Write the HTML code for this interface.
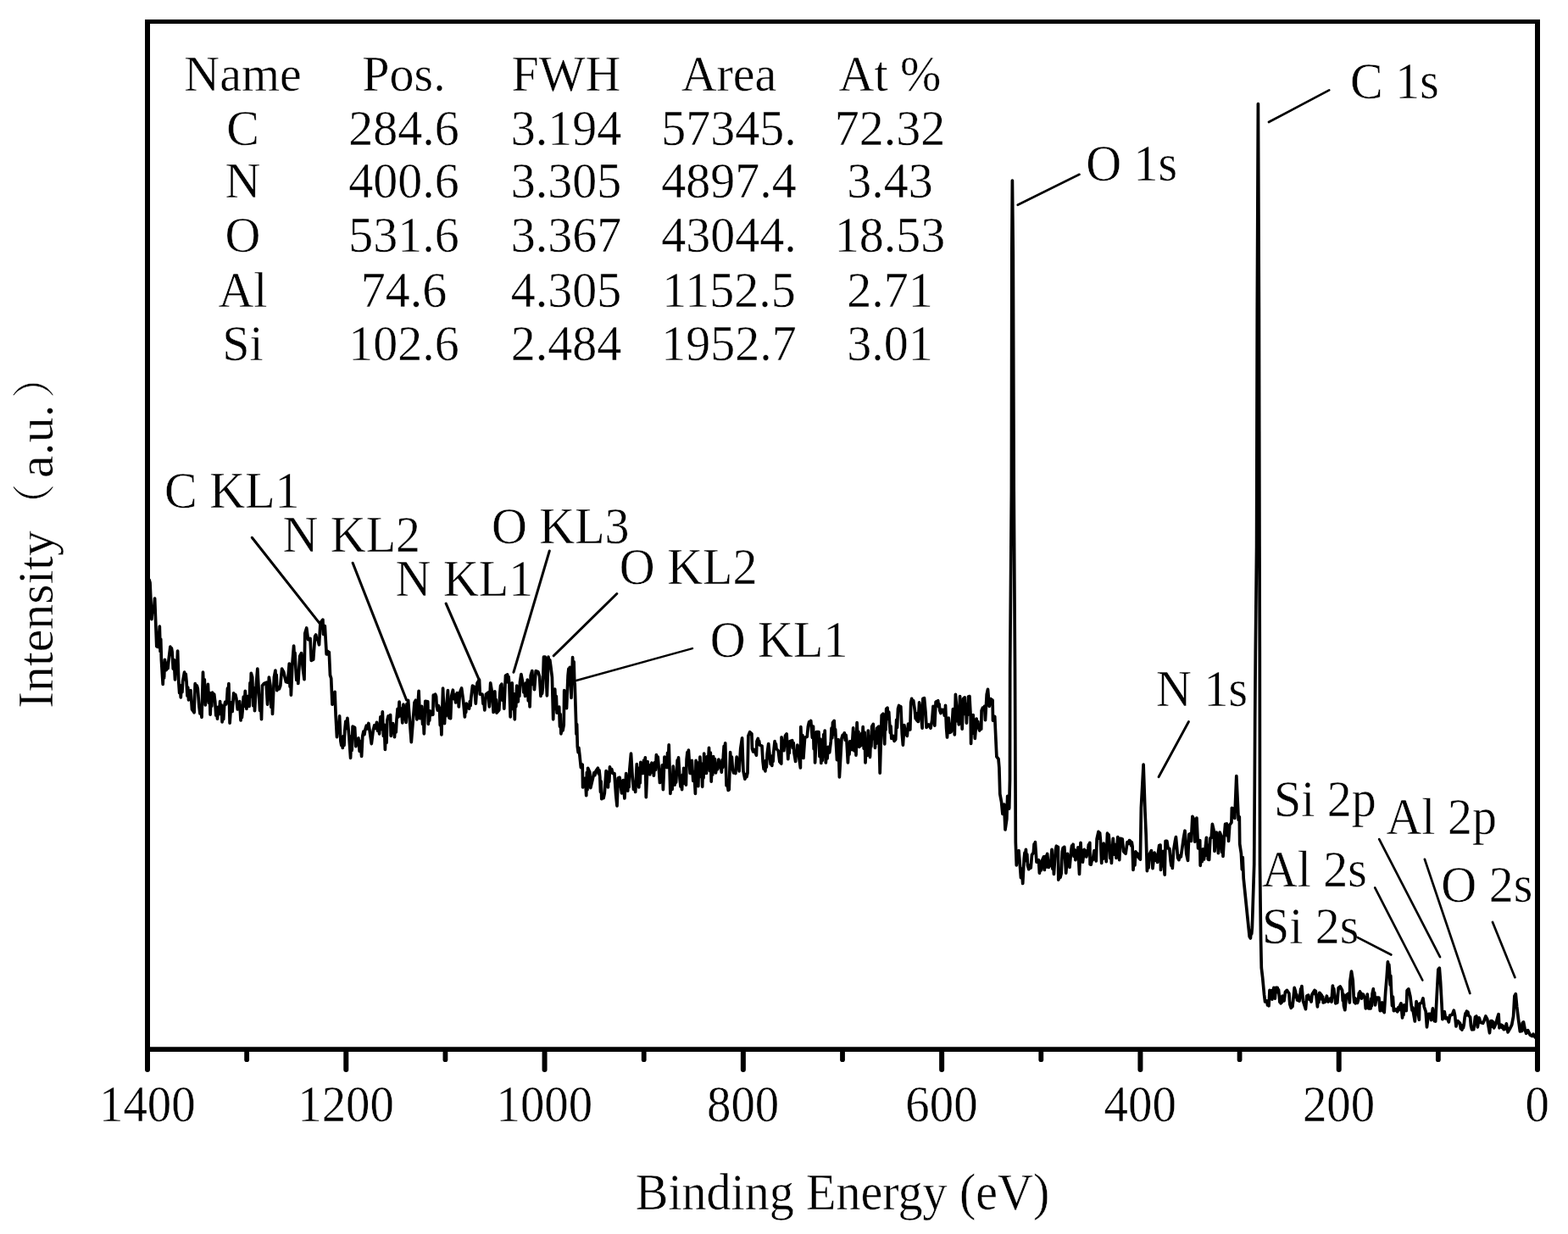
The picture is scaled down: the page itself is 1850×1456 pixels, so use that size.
<!DOCTYPE html>
<html><head><meta charset="utf-8"><title>XPS survey spectrum</title>
<style>
html,body{margin:0;padding:0;background:#fff;}
body{width:1850px;height:1456px;overflow:hidden;}
svg{display:block;font-family:"Liberation Serif", "Noto Serif CJK SC", serif;fill:#000;}
text{stroke:#fff;stroke-width:0.45px;}
</style></head><body>
<svg width="1850" height="1456" viewBox="0 0 1850 1456">
<rect width="1850" height="1456" fill="#fff"/>
<path d="M171 23H1817V1241H171Z M177 28V1235.3H1811V28Z" fill="#000" fill-rule="evenodd"/>
<line x1="174.00" y1="1240" x2="174.00" y2="1262" stroke="#000" stroke-width="6" stroke-linecap="round"/>
<text transform="translate(173.80,1323) scale(0.98,1.055)" text-anchor="middle" font-size="58">1400</text>
<line x1="291.14" y1="1240" x2="291.14" y2="1250.2" stroke="#000" stroke-width="5.8" stroke-linecap="round"/>
<line x1="408.29" y1="1240" x2="408.29" y2="1262" stroke="#000" stroke-width="6" stroke-linecap="round"/>
<text transform="translate(408.09,1323) scale(0.98,1.055)" text-anchor="middle" font-size="58">1200</text>
<line x1="525.43" y1="1240" x2="525.43" y2="1250.2" stroke="#000" stroke-width="5.8" stroke-linecap="round"/>
<line x1="642.57" y1="1240" x2="642.57" y2="1262" stroke="#000" stroke-width="6" stroke-linecap="round"/>
<text transform="translate(642.37,1323) scale(0.98,1.055)" text-anchor="middle" font-size="58">1000</text>
<line x1="759.71" y1="1240" x2="759.71" y2="1250.2" stroke="#000" stroke-width="5.8" stroke-linecap="round"/>
<line x1="876.86" y1="1240" x2="876.86" y2="1262" stroke="#000" stroke-width="6" stroke-linecap="round"/>
<text transform="translate(876.66,1323) scale(0.98,1.055)" text-anchor="middle" font-size="58">800</text>
<line x1="994.00" y1="1240" x2="994.00" y2="1250.2" stroke="#000" stroke-width="5.8" stroke-linecap="round"/>
<line x1="1111.14" y1="1240" x2="1111.14" y2="1262" stroke="#000" stroke-width="6" stroke-linecap="round"/>
<text transform="translate(1110.94,1323) scale(0.98,1.055)" text-anchor="middle" font-size="58">600</text>
<line x1="1228.29" y1="1240" x2="1228.29" y2="1250.2" stroke="#000" stroke-width="5.8" stroke-linecap="round"/>
<line x1="1345.43" y1="1240" x2="1345.43" y2="1262" stroke="#000" stroke-width="6" stroke-linecap="round"/>
<text transform="translate(1345.23,1323) scale(0.98,1.055)" text-anchor="middle" font-size="58">400</text>
<line x1="1462.57" y1="1240" x2="1462.57" y2="1250.2" stroke="#000" stroke-width="5.8" stroke-linecap="round"/>
<line x1="1579.71" y1="1240" x2="1579.71" y2="1262" stroke="#000" stroke-width="6" stroke-linecap="round"/>
<text transform="translate(1579.51,1323) scale(0.98,1.055)" text-anchor="middle" font-size="58">200</text>
<line x1="1696.86" y1="1240" x2="1696.86" y2="1250.2" stroke="#000" stroke-width="5.8" stroke-linecap="round"/>
<line x1="1814.00" y1="1240" x2="1814.00" y2="1262" stroke="#000" stroke-width="6" stroke-linecap="round"/>
<text transform="translate(1813.80,1323) scale(0.98,1.055)" text-anchor="middle" font-size="58">0</text>
<text transform="translate(994,1427.1) scale(1,1.04)" text-anchor="middle" font-size="58">Binding Energy (eV)</text>
<text transform="translate(62.3,836) rotate(-90)" font-size="60">Intensity<tspan x="214.4" dy="-3" font-size="51">（</tspan><tspan x="272" dy="3" font-size="60">a.u.</tspan><tspan x="366.1" dy="-3" font-size="51">）</tspan></text>
<text transform="translate(286.5,106.5) scale(1,1.03)" text-anchor="middle" font-size="58">Name</text>
<text transform="translate(476.5,106.5) scale(1,1.03)" text-anchor="middle" font-size="58">Pos.</text>
<text transform="translate(668,106.5) scale(1,1.03)" text-anchor="middle" font-size="58">FWH</text>
<text transform="translate(860,106.5) scale(1,1.03)" text-anchor="middle" font-size="58">Area</text>
<text transform="translate(1050,106.5) scale(1,1.03)" text-anchor="middle" font-size="58">At %</text>
<text transform="translate(286.5,170.5) scale(1,1.03)" text-anchor="middle" font-size="58">C</text>
<text transform="translate(476.5,170.5) scale(1,1.03)" text-anchor="middle" font-size="58">284.6</text>
<text transform="translate(668,170.5) scale(1,1.03)" text-anchor="middle" font-size="58">3.194</text>
<text transform="translate(860,170.5) scale(1,1.03)" text-anchor="middle" font-size="58">57345.</text>
<text transform="translate(1050,170.5) scale(1,1.03)" text-anchor="middle" font-size="58">72.32</text>
<text transform="translate(286.5,233.2) scale(1,1.03)" text-anchor="middle" font-size="58">N</text>
<text transform="translate(476.5,233.2) scale(1,1.03)" text-anchor="middle" font-size="58">400.6</text>
<text transform="translate(668,233.2) scale(1,1.03)" text-anchor="middle" font-size="58">3.305</text>
<text transform="translate(860,233.2) scale(1,1.03)" text-anchor="middle" font-size="58">4897.4</text>
<text transform="translate(1050,233.2) scale(1,1.03)" text-anchor="middle" font-size="58">3.43</text>
<text transform="translate(286.5,297.2) scale(1,1.03)" text-anchor="middle" font-size="58">O</text>
<text transform="translate(476.5,297.2) scale(1,1.03)" text-anchor="middle" font-size="58">531.6</text>
<text transform="translate(668,297.2) scale(1,1.03)" text-anchor="middle" font-size="58">3.367</text>
<text transform="translate(860,297.2) scale(1,1.03)" text-anchor="middle" font-size="58">43044.</text>
<text transform="translate(1050,297.2) scale(1,1.03)" text-anchor="middle" font-size="58">18.53</text>
<text transform="translate(286.5,362) scale(1,1.03)" text-anchor="middle" font-size="58">Al</text>
<text transform="translate(476.5,362) scale(1,1.03)" text-anchor="middle" font-size="58">74.6</text>
<text transform="translate(668,362) scale(1,1.03)" text-anchor="middle" font-size="58">4.305</text>
<text transform="translate(860,362) scale(1,1.03)" text-anchor="middle" font-size="58">1152.5</text>
<text transform="translate(1050,362) scale(1,1.03)" text-anchor="middle" font-size="58">2.71</text>
<text transform="translate(286.5,425.1) scale(1,1.03)" text-anchor="middle" font-size="58">Si</text>
<text transform="translate(476.5,425.1) scale(1,1.03)" text-anchor="middle" font-size="58">102.6</text>
<text transform="translate(668,425.1) scale(1,1.03)" text-anchor="middle" font-size="58">2.484</text>
<text transform="translate(860,425.1) scale(1,1.03)" text-anchor="middle" font-size="58">1952.7</text>
<text transform="translate(1050,425.1) scale(1,1.03)" text-anchor="middle" font-size="58">3.01</text>
<text transform="translate(194.1,599.2) scale(1,1.055)" text-anchor="start" font-size="58">C KL1</text>
<line x1="297.3" y1="634.3" x2="378" y2="736.6" stroke="#000" stroke-width="3.1" stroke-linecap="round"/>
<text transform="translate(333.4,650.6) scale(1,1.055)" text-anchor="start" font-size="58">N KL2</text>
<line x1="416.2" y1="664.3" x2="479.6" y2="826" stroke="#000" stroke-width="3.1" stroke-linecap="round"/>
<text transform="translate(466.6,702.9) scale(1,1.055)" text-anchor="start" font-size="58">N KL1</text>
<line x1="526.2" y1="712.2" x2="565.4" y2="802.3" stroke="#000" stroke-width="3.1" stroke-linecap="round"/>
<text transform="translate(579.9,641.3) scale(1,1.055)" text-anchor="start" font-size="58">O KL3</text>
<line x1="648.3" y1="650" x2="606" y2="793.2" stroke="#000" stroke-width="3.0" stroke-linecap="round"/>
<text transform="translate(730.8,689.3) scale(1,1.055)" text-anchor="start" font-size="58">O KL2</text>
<line x1="727.8" y1="700.5" x2="653.2" y2="773.8" stroke="#000" stroke-width="3.0" stroke-linecap="round"/>
<text transform="translate(837.7,775.1) scale(1,1.055)" text-anchor="start" font-size="58">O KL1</text>
<line x1="816.9" y1="765.1" x2="678.9" y2="803.2" stroke="#000" stroke-width="2.5" stroke-linecap="round"/>
<text transform="translate(1593.1,115.8) scale(1,1.055)" text-anchor="start" font-size="58">C 1s</text>
<line x1="1568.2" y1="106.4" x2="1497" y2="144" stroke="#000" stroke-width="2.7" stroke-linecap="round"/>
<text transform="translate(1281.2,212.7) scale(1,1.055)" text-anchor="start" font-size="58">O 1s</text>
<line x1="1273.5" y1="205.8" x2="1200.8" y2="241.8" stroke="#000" stroke-width="2.7" stroke-linecap="round"/>
<text transform="translate(1364.1,832.5) scale(1,1.055)" text-anchor="start" font-size="58">N 1s</text>
<line x1="1402.4" y1="851.6" x2="1367.1" y2="916.6" stroke="#000" stroke-width="3.0" stroke-linecap="round"/>
<text transform="translate(1502.9,963.1) scale(1,1.055)" text-anchor="start" font-size="58">Si 2p</text>
<line x1="1627.2" y1="990.1" x2="1699" y2="1129.2" stroke="#000" stroke-width="2.7" stroke-linecap="round"/>
<text transform="translate(1635.4,983.5) scale(1,1.055)" text-anchor="start" font-size="58">Al 2p</text>
<line x1="1680.9" y1="1013.8" x2="1734.3" y2="1172" stroke="#000" stroke-width="2.7" stroke-linecap="round"/>
<text transform="translate(1488.8,1046.0) scale(1,1.055)" text-anchor="start" font-size="58">Al 2s</text>
<line x1="1622.2" y1="1047.4" x2="1678.3" y2="1156.5" stroke="#000" stroke-width="2.7" stroke-linecap="round"/>
<text transform="translate(1700.3,1063.7) scale(1,1.055)" text-anchor="start" font-size="58">O 2s</text>
<line x1="1761" y1="1088" x2="1787.4" y2="1153.2" stroke="#000" stroke-width="2.7" stroke-linecap="round"/>
<text transform="translate(1489,1112.9) scale(1,1.055)" text-anchor="start" font-size="58">Si 2s</text>
<line x1="1601.8" y1="1106.1" x2="1641.4" y2="1126.5" stroke="#000" stroke-width="2.7" stroke-linecap="round"/>
<polyline points="174.0,682.5 175.0,686.9 176.1,684.2 177.0,687.4 178.9,730.7 180.2,715.5 181.3,721.9 182.6,706.0 184.8,762.8 186.7,763.4 188.3,739.1 189.1,768.8 189.7,754.1 190.4,778.9 192.2,807.3 193.0,789.3 193.6,799.9 194.4,778.3 196.2,790.6 197.2,782.0 198.1,788.7 199.0,778.9 200.9,763.1 201.7,768.0 202.4,764.9 203.1,769.0 204.3,789.2 205.3,778.7 206.5,801.8 207.6,779.6 208.5,792.0 209.6,768.0 210.8,804.8 211.7,817.5 212.4,810.0 213.3,822.8 214.2,808.6 214.9,816.6 215.7,803.6 217.6,793.1 218.5,801.8 219.2,795.4 220.1,804.8 221.0,821.2 221.7,811.0 222.5,825.9 223.4,817.8 224.2,822.7 225.0,814.7 226.5,837.0 229.1,840.7 230.2,806.7 231.3,810.7 232.2,808.8 233.3,812.3 234.9,833.3 236.0,841.9 236.9,835.8 238.0,846.3 239.5,793.1 240.5,817.3 241.3,801.9 242.3,832.0 243.4,815.1 244.4,825.6 245.4,807.3 246.4,829.5 247.2,817.3 248.1,843.2 249.0,825.4 249.8,833.2 250.6,817.2 251.8,826.6 252.7,819.1 253.8,828.3 254.8,844.1 255.6,835.3 256.5,848.1 257.6,834.1 258.6,842.5 259.6,827.7 260.5,842.6 261.2,831.9 262.1,851.8 263.0,837.5 263.7,848.7 264.6,833.3 265.7,828.3 266.6,831.1 267.7,825.9 268.5,812.2 269.1,819.6 269.9,806.7 271.1,853.1 272.8,828.9 274.1,839.5 275.7,817.8 276.8,822.5 277.7,819.5 278.8,824.0 280.3,837.0 281.1,830.8 281.9,833.9 282.7,827.7 284.0,850.0 284.8,840.2 285.4,846.7 286.2,838.2 287.3,822.2 288.2,833.2 289.3,815.4 290.9,836.4 292.4,821.5 294.2,833.3 295.0,805.7 295.6,822.1 296.3,794.3 297.7,799.1 298.7,832.6 299.5,811.8 300.5,838.7 302.4,806.5 303.8,789.2 305.5,818.9 306.6,838.4 307.5,824.0 308.5,848.6 309.5,809.0 311.6,806.5 314.1,805.3 315.6,831.2 317.4,799.1 319.0,809.0 319.9,834.5 320.7,814.1 321.5,842.4 323.4,799.1 324.9,791.1 325.6,806.2 326.2,796.3 326.8,814.6 328.3,810.5 329.4,812.9 330.8,809.0 332.6,789.2 334.7,792.9 336.4,800.3 337.4,804.7 338.5,802.1 339.4,805.3 341.3,783.0 342.1,810.1 342.7,794.3 343.4,820.1 345.0,781.8 346.6,762.0 347.4,775.7 348.0,770.4 348.7,784.3 349.8,802.5 350.8,792.1 351.8,806.5 353.7,774.4 355.5,770.7 357.4,789.2 359.0,801.6 359.8,747.2 361.7,741.0 363.5,754.6 366.0,753.4 367.3,779.3 369.7,778.1 371.6,750.9 372.7,749.0 373.7,754.3 374.7,753.4 376.5,760.8 378.0,734.8 380.9,731.1 381.5,748.4 383.3,738.5 385.2,771.9 386.3,768.3 387.3,771.9 388.3,769.4 389.5,796.6 390.7,800.3 392.0,831.2 393.1,822.1 394.0,828.8 395.1,816.4 396.1,843.6 397.5,869.6 398.7,853.7 399.6,863.8 400.6,844.8 401.9,874.5 402.8,879.3 403.5,876.0 404.3,882.5 405.2,868.5 406.0,879.4 406.8,862.2 407.9,851.0 408.9,859.4 409.9,847.3 411.8,868.3 413.6,894.3 414.5,868.8 415.2,885.4 416.1,857.2 418.6,858.4 419.8,880.7 420.9,872.7 421.8,876.8 422.9,870.8 424.2,886.4 425.3,874.5 426.6,892.4 427.8,868.3 428.9,863.2 429.9,866.7 430.9,860.9 432.3,856.2 433.5,859.8 434.9,853.5 438.3,877.6 440.2,862.2 441.7,855.9 443.0,859.3 444.5,852.3 445.6,862.2 446.6,857.6 447.6,865.9 448.9,845.8 450.0,860.3 451.3,839.9 452.4,868.5 453.3,855.2 454.4,884.4 455.3,856.9 456.0,876.4 456.9,849.8 458.2,844.8 459.3,847.3 460.6,843.6 461.2,868.3 462.1,856.4 462.8,863.1 463.7,853.5 465.5,869.6 466.4,856.2 467.2,863.9 468.0,849.2 469.1,836.4 470.0,845.9 471.1,828.2 472.4,844.6 473.5,836.1 474.8,852.9 476.0,831.2 479.1,852.3 480.0,830.6 480.8,842.0 481.6,826.3 485.3,875.7 489.0,828.8 490.4,826.3 491.9,848.8 494.1,815.3 495.4,847.7 496.2,838.3 496.8,844.7 497.6,833.4 498.6,854.5 499.4,843.3 500.3,865.8 501.8,827.4 504.7,827.9 505.3,854.3 506.1,841.8 506.7,850.1 507.5,838.9 508.6,843.7 509.7,839.9 510.8,843.3 511.3,820.2 512.5,824.5 513.6,819.1 514.6,821.9 515.2,833.4 516.3,838.0 517.4,832.6 518.5,835.6 519.3,855.8 520.1,846.5 520.9,866.9 522.6,812.0 524.5,853.7 525.4,835.7 526.2,844.9 527.0,831.2 528.4,814.7 530.0,847.1 531.6,847.7 532.7,821.3 534.4,814.2 535.6,824.6 536.6,819.9 537.7,829.0 539.3,817.5 540.1,828.1 540.6,820.5 541.3,834.0 542.6,816.9 544.6,812.0 546.5,825.7 548.4,846.0 549.1,832.9 549.7,840.4 550.3,830.1 551.5,835.0 552.5,832.5 553.6,836.2 554.4,827.5 555.1,832.5 555.8,823.5 557.5,809.2 559.7,810.3 561.3,830.1 563.0,805.9 565.5,802.1 566.3,819.1 569.0,819.1 570.0,830.4 570.8,826.5 571.8,837.8 573.4,819.1 576.2,816.9 577.3,834.0 578.7,805.9 580.5,816.9 582.2,840.5 583.8,815.8 584.6,834.3 585.3,825.5 586.0,841.1 588.8,837.8 589.9,816.9 590.6,808.8 591.2,813.4 591.9,807.0 592.9,826.3 593.8,813.5 594.8,836.2 596.5,797.1 598.7,796.0 599.5,805.1 600.1,798.6 600.9,808.1 602.2,846.0 602.9,820.7 603.5,830.9 604.2,805.9 605.3,836.6 606.2,818.6 607.3,848.8 608.1,820.9 608.8,833.8 609.7,809.2 611.3,827.9 612.1,811.0 612.8,821.4 613.5,804.8 614.9,795.5 616.8,805.9 617.8,816.9 618.6,808.9 619.6,821.3 620.5,805.9 621.4,817.6 622.3,802.1 623.3,827.0 624.1,811.3 625.1,834.0 626.2,797.1 627.8,791.6 628.8,807.7 629.6,798.0 630.5,813.6 632.2,791.6 634.9,792.7 636.6,798.2 638.0,821.3 638.9,815.1 639.6,818.4 640.4,811.4 641.5,775.2 643.2,775.2 645.4,820.8 647.0,775.2 648.0,782.5 648.8,778.9 649.8,786.2 651.4,799.3 652.7,848.8 653.5,822.3 654.1,836.6 654.7,813.1 655.6,833.0 656.3,821.6 657.1,841.1 658.1,835.9 658.8,838.8 659.7,834.0 660.5,857.3 661.1,842.5 661.9,865.8 663.1,857.7 664.0,862.0 665.2,855.4 665.7,814.7 666.7,828.6 667.5,820.8 668.5,835.6 670.1,797.1 670.9,789.1 671.6,795.3 672.3,787.3 674.0,823.5 675.6,775.7 676.4,797.2 677.1,780.8 677.8,805.9 678.2,806.7 679.3,842.4 680.0,866.2 680.6,854.6 681.3,880.9 682.2,887.7 682.9,882.4 683.7,889.1 685.4,905.6 687.2,902.2 687.6,929.0 688.7,920.5 689.6,926.9 690.6,918.0 691.7,938.6 692.4,911.4 693.0,932.0 693.6,906.3 695.8,911.1 696.8,929.6 699.5,918.0 700.8,912.0 701.8,914.7 703.0,909.7 705.4,906.3 706.3,912.9 707.0,908.9 707.8,916.6 708.5,934.5 709.1,921.8 709.8,942.7 711.1,937.3 712.1,941.6 713.3,935.8 715.1,909.7 715.9,923.4 716.6,912.7 717.4,929.0 718.1,910.8 718.8,922.3 719.5,904.9 720.7,911.3 721.7,907.5 722.9,912.5 724.9,912.5 726.6,937.2 728.0,950.9 729.3,918.0 731.1,917.3 733.5,935.8 735.2,920.7 736.9,942.0 738.7,912.5 739.4,926.2 740.0,915.8 740.7,933.1 741.5,916.6 742.1,928.6 742.8,908.4 744.5,889.1 746.2,916.6 747.5,931.4 748.5,922.9 749.7,934.5 751.3,901.5 752.2,919.0 753.0,911.9 753.8,929.0 754.5,906.1 755.2,923.9 755.9,899.4 756.8,909.5 757.7,902.8 758.6,912.5 759.6,897.0 760.4,906.7 761.3,893.9 762.3,940.6 764.1,898.7 765.1,908.1 765.9,904.2 766.8,913.8 767.6,902.6 768.2,910.2 768.9,900.1 769.8,911.3 770.5,905.9 771.4,915.2 772.5,899.6 773.4,908.3 774.4,890.5 775.4,899.1 776.2,893.1 777.1,904.2 778.5,923.5 779.5,910.1 780.3,918.8 781.3,902.9 782.4,931.7 784.0,893.2 785.0,903.0 785.8,896.0 786.8,905.6 787.6,888.3 788.4,899.3 789.2,878.8 790.9,936.5 792.1,915.1 793.1,931.5 794.3,904.2 796.1,926.2 796.9,915.1 797.6,923.2 798.4,911.1 799.2,896.8 799.8,908.1 800.5,893.9 802.1,919.3 803.0,928.1 803.8,922.7 804.6,931.7 805.4,914.0 806.0,924.7 806.7,906.3 807.7,923.1 808.5,911.0 809.4,926.2 810.1,896.0 811.0,887.5 811.7,892.6 812.4,885.0 814.2,912.5 815.0,902.1 815.6,910.0 816.3,897.4 817.8,921.5 819.0,910.5 820.4,936.5 821.1,897.4 822.1,916.7 822.9,902.5 823.8,927.6 824.6,899.5 825.2,916.7 825.9,893.2 826.9,916.4 827.7,901.1 828.7,928.3 829.4,903.2 830.0,918.0 830.7,889.1 831.7,908.7 832.5,898.3 833.5,912.5 834.5,892.5 835.5,900.6 836.5,882.3 837.5,909.7 838.3,888.2 839.2,922.1 840.1,900.9 840.9,913.9 841.7,892.6 842.7,906.5 843.5,895.5 844.5,911.8 845.7,902.0 846.7,907.8 847.9,896.0 849.1,905.1 850.2,899.4 851.3,911.1 852.1,896.7 852.7,905.7 853.4,891.9 854.2,880.3 854.9,886.9 855.7,876.8 857.1,926.9 858.2,924.8 859.2,932.4 860.2,931.7 861.6,887.7 862.6,903.3 863.4,893.2 864.4,907.7 865.6,911.9 866.7,909.4 867.8,912.5 869.2,893.2 870.2,906.7 871.1,899.5 872.1,909.9 873.7,883.5 875.6,870.9 877.0,909.9 878.9,919.2 880.0,913.6 880.9,916.7 882.0,912.1 882.9,868.1 884.7,863.7 886.9,865.9 887.5,883.5 888.6,886.9 889.7,884.4 890.8,886.8 892.4,891.2 893.0,874.7 894.3,871.4 895.0,877.2 895.6,874.3 896.3,879.1 899.0,880.2 900.1,898.9 901.1,907.4 901.9,901.2 902.9,909.9 903.6,897.4 904.3,905.1 905.1,890.1 906.7,877.5 908.4,894.5 909.2,901.6 909.9,897.1 910.8,903.3 911.5,891.7 912.1,898.4 912.7,887.9 914.1,874.7 914.8,880.0 915.4,877.8 916.0,883.5 918.2,885.7 919.9,898.9 921.8,901.1 922.1,869.8 923.1,881.3 923.9,874.3 924.8,885.7 926.5,868.1 928.1,865.9 929.8,895.6 930.6,882.7 931.2,888.6 932.0,874.7 934.7,873.6 935.5,882.5 936.2,876.7 936.9,887.9 938.6,898.4 939.4,885.8 940.0,891.9 940.8,879.1 942.4,891.2 944.4,906.0 944.8,857.7 945.9,883.3 946.9,867.6 947.9,894.5 949.6,870.3 952.3,869.2 953.4,857.1 954.6,851.9 955.6,855.1 956.7,850.5 958.4,870.3 959.5,857.1 960.2,883.7 960.9,865.2 961.6,900.0 963.3,863.7 966.0,863.7 967.0,892.7 967.9,872.1 968.8,900.5 969.6,889.0 970.2,897.4 971.0,881.3 971.8,866.5 972.4,875.1 973.2,862.1 974.3,900.0 975.3,887.4 976.1,894.8 977.0,881.3 978.7,887.9 980.3,874.7 981.1,859.0 981.8,870.8 982.5,852.7 984.2,850.5 985.0,867.0 985.6,860.5 986.4,875.8 987.5,896.7 989.1,872.5 990.4,917.0 993.0,871.4 994.2,867.4 995.1,869.7 996.3,864.8 997.3,873.2 998.1,867.4 999.0,874.7 1000.4,900.0 1001.3,883.5 1002.0,890.2 1002.9,874.7 1003.6,882.1 1004.3,876.6 1005.1,884.6 1006.7,858.8 1007.9,886.0 1008.9,864.7 1010.0,891.2 1011.1,852.7 1012.1,873.5 1012.9,863.4 1013.8,881.3 1016.0,879.1 1016.8,865.0 1017.5,871.1 1018.2,857.7 1019.2,883.3 1020.1,864.1 1021.0,900.0 1022.2,873.0 1023.2,891.5 1024.3,862.1 1025.1,883.6 1025.7,869.3 1026.5,893.4 1027.3,871.6 1027.9,881.2 1028.7,857.1 1030.3,854.4 1031.1,872.0 1031.8,865.1 1032.5,882.4 1033.3,863.4 1034.0,877.3 1034.7,859.3 1036.9,857.1 1038.2,912.1 1040.2,844.0 1041.9,842.3 1043.7,878.0 1044.4,848.9 1045.0,861.3 1045.7,836.3 1047.0,835.2 1047.9,848.1 1048.7,840.0 1049.6,853.8 1050.4,864.6 1051.0,856.9 1051.8,871.4 1053.5,868.1 1055.1,874.4 1056.7,872.5 1057.7,849.4 1058.5,858.3 1059.5,836.3 1060.6,832.5 1061.7,836.2 1062.8,833.7 1064.3,866.1 1065.4,879.1 1066.9,855.7 1068.2,864.4 1070.3,868.3 1071.6,854.0 1072.4,858.8 1073.1,856.7 1073.8,860.9 1074.7,828.9 1075.7,824.4 1076.7,829.7 1077.7,826.8 1079.4,838.4 1080.2,847.8 1080.8,841.7 1081.6,849.7 1083.3,851.4 1084.6,828.9 1086.3,840.2 1088.1,859.2 1088.9,824.2 1090.5,823.7 1092.0,840.2 1093.1,858.3 1095.8,854.9 1098.0,859.2 1099.7,849.7 1101.0,833.3 1102.8,856.2 1104.1,828.1 1106.7,826.8 1107.4,833.9 1108.1,830.7 1108.8,838.4 1110.0,841.6 1111.2,837.3 1112.3,839.3 1113.3,837.5 1114.3,844.2 1115.3,843.6 1115.5,832.4 1116.6,859.2 1117.5,870.0 1119.2,847.1 1120.5,864.4 1122.2,863.5 1123.5,852.3 1124.4,836.7 1125.1,861.8 1125.7,845.4 1126.3,867.0 1127.4,819.4 1129.2,841.9 1129.9,851.0 1130.6,844.8 1131.3,854.9 1132.6,821.6 1133.5,851.8 1134.3,833.6 1135.2,860.1 1136.5,824.6 1138.2,822.9 1139.0,842.8 1139.7,831.1 1140.4,853.1 1141.2,833.5 1141.8,843.5 1142.6,822.0 1143.9,821.6 1145.2,845.4 1145.6,877.4 1146.5,852.9 1147.3,865.5 1148.2,843.6 1149.0,863.4 1149.6,850.1 1150.3,871.3 1152.1,848.0 1153.0,855.9 1153.8,851.2 1154.7,859.2 1155.7,862.0 1156.7,858.3 1157.7,860.1 1158.1,838.4 1159.4,835.2 1160.4,837.4 1161.6,833.3 1162.5,849.7 1164.2,819.4 1165.5,813.4 1167.2,833.3 1168.9,824.6 1171.1,826.3 1171.5,850.1 1173.7,845.4 1175.0,873.9 1175.9,892.9 1178.0,895.5 1178.9,905.9 1179.8,936.9 1181.6,946.7 1182.9,960.3 1184.7,949.2 1186.0,978.9 1187.8,966.5 1188.7,939.3 1189.4,950.3 1190.0,944.8 1190.7,954.2 1191.5,919.6 1191.7,790.0 1193.4,580.0 1193.8,300.0 1194.4,213.0 1195.3,300.0 1196.2,580.0 1197.5,790.0 1198.3,993.7 1199.3,1020.9 1200.3,1008.7 1201.1,1016.5 1202.0,1003.6 1203.3,1019.7 1204.5,1035.6 1205.5,1025.0 1206.7,1042.5 1208.2,1013.5 1209.0,1006.1 1209.7,1009.1 1210.4,1002.4 1211.2,1015.8 1211.8,1008.1 1212.5,1020.9 1213.8,1025.7 1215.1,1020.8 1216.2,1024.0 1217.5,1008.6 1219.3,1006.1 1220.1,995.9 1220.7,1003.0 1221.4,993.7 1223.0,1017.2 1225.5,1014.7 1226.4,1030.2 1227.4,1020.1 1228.3,1026.9 1229.2,1016.0 1231.4,1011.0 1232.3,1026.5 1233.5,1010.3 1234.5,1023.0 1235.6,1007.3 1237.3,1023.4 1239.7,1019.7 1241.0,1002.4 1241.9,1025.3 1242.6,1012.6 1243.4,1031.4 1245.3,1003.6 1246.4,998.2 1247.4,1003.0 1248.4,999.3 1248.8,1038.2 1250.0,1033.0 1251.0,1035.4 1252.1,1030.8 1253.3,1004.8 1254.2,1000.3 1255.0,1002.7 1255.8,999.3 1257.7,1030.2 1259.5,1007.3 1260.4,1017.4 1261.1,1010.3 1262.0,1023.4 1263.8,1003.6 1264.6,997.9 1265.3,1000.8 1266.1,996.2 1267.0,1010.3 1267.9,1002.5 1268.8,1014.7 1269.9,1003.8 1270.8,1012.4 1271.9,999.9 1273.5,1031.4 1275.0,994.3 1275.8,1009.4 1276.6,1003.0 1277.4,1017.2 1279.3,1002.4 1280.2,1008.2 1280.9,1003.9 1281.8,1011.0 1283.6,1003.6 1284.4,996.6 1285.1,1000.6 1285.8,994.3 1286.1,1019.7 1287.2,1020.2 1288.2,1015.0 1289.2,1014.7 1291.0,1003.6 1291.8,1013.9 1292.5,1006.1 1293.3,1016.0 1294.1,990.0 1296.0,981.4 1296.9,989.2 1297.6,982.8 1298.4,991.2 1299.7,1018.4 1300.6,998.5 1301.3,1013.3 1302.2,995.0 1303.3,1012.5 1304.2,999.5 1305.2,1016.6 1306.5,983.2 1307.4,991.0 1308.1,984.9 1308.9,993.7 1309.8,1012.6 1310.6,997.8 1311.4,1018.4 1313.3,989.4 1314.6,1008.2 1315.7,996.5 1317.0,1012.3 1318.8,987.5 1320.7,1014.7 1321.9,989.4 1324.2,990.0 1325.6,1004.8 1328.1,1007.3 1330.0,993.7 1331.3,995.5 1332.5,991.6 1333.7,992.5 1334.6,997.6 1335.3,993.8 1336.1,998.7 1337.0,1026.5 1338.0,1011.7 1338.9,1021.0 1339.9,1004.8 1341.0,1008.9 1341.9,1007.0 1342.9,1011.0 1345.4,1014.1 1346.4,952.9 1349.1,902.2 1351.0,957.9 1352.2,985.1 1353.4,1027.7 1354.3,1013.8 1355.1,1023.9 1355.9,1008.6 1358.4,1003.6 1360.0,1024.6 1362.1,1006.2 1363.4,1015.2 1364.4,1008.5 1365.6,1017.4 1366.0,1009.6 1367.7,997.5 1369.0,997.1 1369.5,1026.5 1370.4,1009.1 1371.2,1021.6 1372.1,1004.4 1374.2,1032.1 1375.1,992.3 1376.8,992.3 1378.1,1001.0 1379.8,1001.4 1381.1,1015.7 1381.9,1021.3 1382.6,1017.5 1383.3,1024.3 1384.6,1003.6 1386.3,993.2 1387.4,987.6 1388.9,1003.6 1389.6,1012.2 1390.9,1014.6 1392.1,1009.7 1393.3,1010.9 1395.0,999.3 1396.3,989.7 1398.0,980.2 1399.7,1007.0 1401.5,1015.3 1402.8,984.6 1404.1,983.7 1405.4,992.3 1406.9,963.4 1409.3,968.1 1409.7,993.2 1410.5,975.3 1411.1,986.2 1411.9,965.1 1413.6,1001.0 1414.4,993.0 1415.0,999.2 1415.7,991.5 1416.2,1021.3 1417.3,1009.3 1418.2,1016.5 1419.2,1001.9 1420.5,1014.0 1422.2,1000.1 1423.4,988.4 1424.0,1009.4 1424.6,996.9 1425.3,1014.0 1426.6,1014.4 1427.9,988.9 1429.2,988.4 1430.4,972.4 1432.2,980.2 1433.0,1004.4 1435.2,982.0 1436.0,998.8 1436.6,986.8 1437.4,1006.6 1439.1,982.0 1440.8,986.3 1441.6,1005.3 1442.3,990.1 1443.0,1010.5 1444.3,988.9 1445.6,972.4 1447.3,972.0 1448.1,986.1 1448.7,977.0 1449.5,992.3 1450.8,973.3 1452.9,970.7 1453.4,953.4 1455.1,954.3 1456.8,965.5 1458.8,915.6 1460.3,947.4 1461.2,967.3 1462.3,963.8 1462.7,995.8 1464.4,1007.0 1465.4,1025.9 1466.2,1011.5 1467.2,1036.5 1474.2,1105.0 1475.4,1107.0 1476.1,1098.1 1476.7,1101.9 1477.4,1094.0 1479.7,1020.0 1480.3,925.0 1480.7,850.0 1481.3,770.0 1482.6,645.0 1483.3,364.0 1484.4,122.5 1485.4,364.0 1486.0,645.0 1486.3,770.0 1486.5,1020.0 1487.6,1110.0 1488.3,1142.0 1489.7,1153.8 1491.5,1173.2 1492.6,1182.0 1494.6,1181.0 1495.5,1185.9 1496.2,1182.2 1497.0,1186.8 1498.0,1168.4 1500.4,1169.3 1500.9,1179.1 1501.6,1168.1 1502.2,1174.2 1502.9,1165.4 1504.3,1178.1 1505.3,1165.4 1507.2,1165.4 1507.9,1170.8 1508.5,1167.8 1509.2,1174.2 1509.9,1182.3 1510.5,1176.1 1511.1,1183.9 1511.8,1176.7 1512.4,1182.6 1513.1,1175.2 1513.8,1179.9 1514.4,1177.2 1515.0,1181.0 1516.5,1170.3 1518.4,1168.4 1520.9,1172.3 1521.8,1184.9 1523.3,1189.3 1524.2,1184.2 1524.9,1187.9 1525.7,1181.0 1527.2,1165.4 1528.6,1170.3 1529.3,1176.8 1529.9,1173.6 1530.6,1180.0 1533.0,1181.0 1534.0,1173.2 1534.7,1166.6 1535.3,1171.1 1535.9,1163.5 1537.4,1181.0 1540.5,1190.7 1541.8,1175.2 1543.7,1174.2 1544.9,1179.4 1546.0,1176.8 1547.1,1182.0 1548.1,1173.2 1551.0,1168.4 1551.7,1172.9 1552.3,1169.4 1553.0,1175.2 1554.4,1187.8 1555.3,1174.1 1556.0,1182.7 1556.8,1171.3 1559.3,1174.2 1560.0,1179.5 1560.6,1176.0 1561.2,1183.0 1563.7,1182.0 1565.4,1175.2 1567.1,1182.0 1569.5,1178.1 1571.0,1182.0 1572.4,1163.0 1573.1,1170.8 1573.7,1166.6 1574.4,1172.3 1575.8,1183.9 1577.8,1183.0 1579.2,1165.4 1581.2,1164.0 1583.6,1168.4 1584.3,1180.6 1584.9,1173.1 1585.5,1186.8 1586.8,1191.7 1588.5,1174.2 1590.9,1172.3 1592.4,1183.0 1592.8,1158.6 1594.5,1146.0 1596.2,1156.7 1597.2,1176.1 1597.9,1182.6 1598.5,1177.7 1599.2,1183.9 1600.4,1179.0 1601.5,1183.4 1602.6,1180.0 1603.3,1171.9 1603.9,1177.0 1604.5,1169.8 1605.2,1175.4 1605.8,1171.8 1606.5,1178.1 1608.4,1173.2 1610.4,1178.1 1611.3,1189.8 1612.0,1179.5 1612.6,1186.5 1613.3,1173.2 1614.7,1189.8 1617.2,1189.8 1617.9,1178.2 1618.4,1186.9 1619.1,1172.3 1620.3,1166.9 1621.1,1180.9 1621.7,1171.3 1622.5,1185.9 1624.0,1177.1 1626.9,1177.1 1628.3,1192.7 1630.8,1183.0 1631.7,1192.8 1632.4,1185.5 1633.2,1194.6 1634.7,1170.3 1636.1,1153.8 1637.4,1134.8 1638.2,1142.4 1638.8,1138.1 1639.5,1147.0 1640.2,1162.2 1640.8,1151.4 1641.5,1168.4 1642.5,1186.7 1643.4,1176.1 1644.4,1192.7 1646.3,1190.7 1648.8,1193.7 1649.6,1188.9 1650.4,1191.8 1651.2,1187.8 1653.0,1183.9 1654.6,1201.0 1655.3,1188.7 1655.9,1197.6 1656.6,1185.9 1659.0,1186.8 1659.2,1192.6 1660.1,1168.7 1661.9,1166.9 1663.8,1175.1 1665.2,1186.2 1666.0,1191.9 1666.7,1188.9 1667.5,1194.4 1669.3,1205.0 1671.1,1181.6 1672.5,1190.8 1674.4,1203.2 1674.8,1184.3 1677.1,1183.4 1679.0,1177.9 1680.3,1188.0 1682.2,1193.5 1683.5,1211.9 1685.4,1196.3 1687.7,1196.3 1688.6,1203.6 1690.4,1189.9 1692.3,1204.6 1693.7,1205.0 1695.0,1178.8 1696.9,1143.9 1698.3,1142.1 1699.6,1158.6 1701.0,1184.3 1701.9,1202.7 1702.8,1196.6 1703.4,1200.8 1704.2,1193.5 1705.6,1201.8 1707.4,1200.9 1709.3,1205.9 1710.7,1198.1 1713.4,1197.2 1715.3,1192.2 1716.6,1198.1 1718.0,1211.0 1719.9,1204.6 1722.6,1207.3 1723.4,1213.7 1724.1,1209.6 1724.9,1215.1 1725.7,1211.0 1726.4,1212.8 1727.2,1209.2 1728.1,1200.9 1729.0,1195.7 1729.6,1198.1 1730.4,1193.1 1731.2,1197.4 1731.9,1194.0 1732.7,1198.1 1734.6,1200.0 1735.5,1210.5 1736.6,1214.9 1737.7,1211.6 1738.7,1214.7 1740.5,1200.0 1741.9,1199.0 1743.3,1211.9 1745.1,1200.9 1747.0,1206.4 1749.7,1207.3 1751.6,1202.7 1752.9,1199.0 1754.8,1202.7 1755.7,1208.2 1757.5,1218.8 1758.9,1204.6 1760.3,1204.6 1761.1,1211.4 1761.8,1205.9 1762.6,1212.8 1764.9,1208.2 1766.7,1200.9 1768.1,1196.7 1769.0,1212.8 1771.3,1209.2 1772.3,1212.6 1773.1,1210.2 1774.1,1214.7 1776.4,1213.8 1777.3,1207.8 1779.1,1217.9 1781.4,1213.8 1783.7,1209.2 1785.6,1199.0 1786.9,1175.1 1788.3,1172.8 1789.7,1188.0 1791.5,1202.7 1793.4,1217.0 1795.7,1216.5 1796.1,1207.3 1797.5,1205.9 1799.4,1215.6 1800.7,1219.3 1802.6,1215.6 1805.3,1221.1 1807.6,1222.5 1809.0,1220.2 1811.3,1223.9 1814.1,1224.8" fill="none" stroke="#000" stroke-width="3.7" stroke-linejoin="round" stroke-linecap="round"/>
</svg>
</body></html>
